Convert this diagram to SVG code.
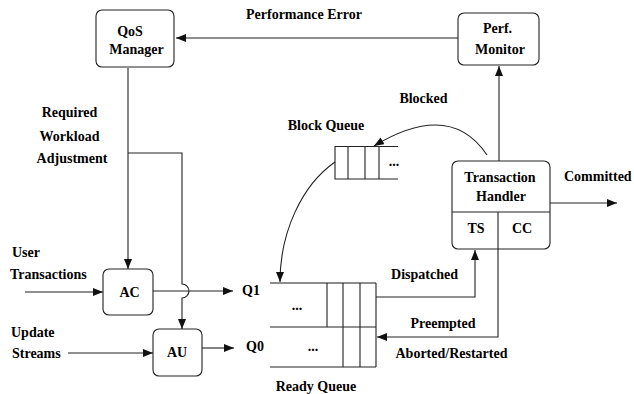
<svg xmlns="http://www.w3.org/2000/svg" width="634" height="394" viewBox="0 0 634 394">
<style>
text{font-family:"Liberation Serif","Times New Roman",serif;font-weight:bold;font-size:14px;fill:#000}
.m{text-anchor:middle}
.box{fill:#fff;stroke:#222;stroke-width:1.1}
.ln{fill:none;stroke:#222;stroke-width:1.1}
.gl{fill:none;stroke:#666;stroke-width:1.6}
</style>
<defs>
<marker id="ah" viewBox="0 0 10 8" refX="10" refY="4" markerWidth="10" markerHeight="8" markerUnits="userSpaceOnUse" orient="auto">
<path d="M0,0 L10,4 L0,8 z" fill="#111"/>
</marker>
</defs>
<rect width="634" height="394" fill="#fff"/>
<g id="connectors">
<path class="gl" d="M458,38 H176" marker-end="url(#ah)"/>
<path class="ln" d="M128,68 V269" marker-end="url(#ah)"/>
<path class="ln" d="M128,153 H182 V284 A7,7 0 0 1 182,298 V329" marker-end="url(#ah)"/>
<path class="ln" d="M25,292 H103" marker-end="url(#ah)"/>
<path class="ln" d="M68,353 H153" marker-end="url(#ah)"/>
<path class="ln" d="M153,291 H233" marker-end="url(#ah)"/>
<path class="ln" d="M202,348 H234" marker-end="url(#ah)"/>
<path class="ln" d="M499,161 V66" marker-end="url(#ah)"/>
<path class="ln" d="M550,203 H617" marker-end="url(#ah)"/>
<path class="ln" d="M487,155 Q450,100 374,146" marker-end="url(#ah)"/>
<path class="ln" d="M335,162 C302,185 280,232 280,282" marker-end="url(#ah)"/>
<path class="ln" d="M376,297 H475 V250" marker-end="url(#ah)"/>
<path class="ln" d="M498,249 V337 H377" marker-end="url(#ah)"/>
</g>
<g id="qos-manager">
<rect class="box" x="96" y="10" width="78" height="57" rx="6"/>
<text x="130" y="36" class="m">QoS</text>
<text x="136.5" y="54" class="m">Manager</text>
</g>
<g id="perf-monitor">
<rect class="box" x="458" y="13" width="81" height="52" rx="6"/>
<text x="497.5" y="33" class="m">Perf.</text>
<text x="500" y="54" class="m">Monitor</text>
</g>
<g id="transaction-handler">
<rect class="box" x="452" y="161" width="98" height="88" rx="6"/>
<path class="ln" d="M452,212 H550 M498,212 V249"/>
<text x="500" y="182" class="m">Transaction</text>
<text x="501" y="201" class="m">Handler</text>
<text x="476" y="233" class="m">TS</text>
<text x="522" y="233" class="m">CC</text>
</g>
<g id="ac">
<rect class="box" x="103" y="269" width="50" height="46" rx="6"/>
<text x="129.5" y="297" class="m">AC</text>
</g>
<g id="au">
<rect class="box" x="153" y="329" width="49" height="47" rx="6"/>
<text x="177" y="357" class="m">AU</text>
</g>
<g id="block-queue">
<path class="ln" d="M398,146.5 H335 V179 H398 M348,146.5 V179 M365,146.5 V179 M379,146.5 V179"/>
<text x="394" y="166" class="m">...</text>
<text x="326" y="130" class="m">Block Queue</text>
</g>
<g id="ready-queue">
<path class="gl" d="M270,283 H376"/>
<path class="ln" d="M270,327 H376 M270,367 H376 M376,283 V367 M327,283 V327 M343,283 V367 M360,283 V367"/>
<text x="297" y="310" class="m">...</text>
<text x="313" y="351" class="m">...</text>
<text x="316" y="391" class="m">Ready Queue</text>
</g>
<g id="labels">
<text x="304" y="19" class="m">Performance Error</text>
<text x="69.5" y="117" class="m">Required</text>
<text x="69.5" y="141" class="m">Workload</text>
<text x="72" y="163" class="m">Adjustment</text>
<text x="12" y="257">User</text>
<text x="10" y="279">Transactions</text>
<text x="11" y="337">Update</text>
<text x="12" y="358">Streams</text>
<text x="242" y="295">Q1</text>
<text x="246" y="351">Q0</text>
<text x="423.5" y="103" class="m">Blocked</text>
<text x="564" y="181">Committed</text>
<text x="424.5" y="279" class="m">Dispatched</text>
<text x="443" y="328" class="m">Preempted</text>
<text x="451.5" y="358" class="m">Aborted/Restarted</text>
</g>
</svg>
